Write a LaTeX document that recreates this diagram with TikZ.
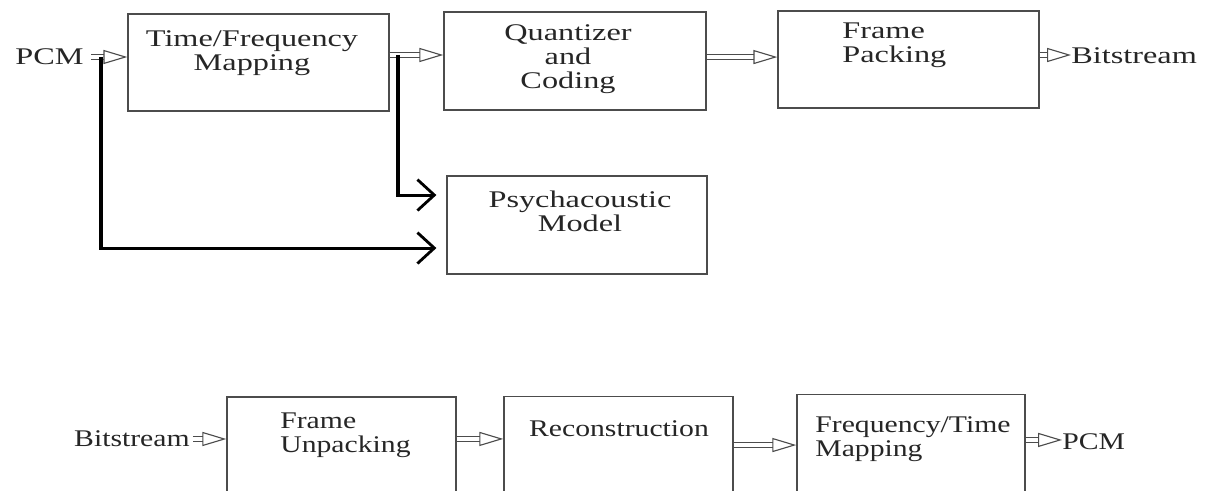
\documentclass[tikz,border=0pt]{standalone}
\usepackage{fontspec}
\setmainfont{Liberation Serif}
\usetikzlibrary{arrows.meta}

\tikzset{
  blk/.style={draw=black!70,line width=1pt,inner sep=0pt},
  lbl/.style={font=\fontsize{17}{17}\selectfont,text=black!85,inner sep=0pt,xscale=1.35},
  lblsm/.style={lbl,xscale=0.92},
  hollow/.style={draw=black!70,line width=0.8pt,double=white,double distance=3.2pt,
    -{Triangle[open,length=17pt,width=10pt]}},
  feed/.style={line width=2.2pt,-{Straight Barb[length=12pt,width=22pt,line width=2pt]}}
}

\begin{document}
\begin{tikzpicture}[x=0.025cm,y=-0.025cm]
\useasboundingbox (0,0) rectangle (1207,491);
\clip (0,0) rectangle (1207,491);
% encoder
\node[blk,minimum width=185.6pt,minimum height=69pt] (tf) at (258.5,62.5) {};
\node[blk,minimum width=186.4pt,minimum height=69.7pt] (qc) at (575,61) {};
\node[blk,minimum width=185.6pt,minimum height=69pt] (fp) at (908.5,59.5) {};
\node[blk,minimum width=185pt,minimum height=69.7pt] (psy) at (577,225) {};
\node[lbl,anchor=east] (pcm) at (84,57) {PCM};
\node[lbl,align=center] (tftext) at (252,53) {Time/Frequency\\Mapping};
\node[lbl,align=center] (qctext) at (568,59) {Quantizer\\and\\Coding};
\node[lbl,align=left,anchor=west] (fptext) at (842,45) {Frame\\Packing};
\node[lbl,align=center] (psytext) at (580,211) {Psychacoustic\\Model};
\node[lbl,anchor=west] (bsout) at (1071,56) {Bitstream};
\coordinate (split1) at (101,57);
\coordinate (split2) at (398,55);
\draw[hollow] ([xshift=5pt]pcm.east |- split1) -- (split1 -| tf.west);
\draw[hollow] (split2 -| tf.east) -- (split2 -| qc.west);
\draw[hollow] ([yshift=2.8pt]qc.east) -- ([yshift=2.8pt]qc.east -| fp.west);
\draw[hollow] ([yshift=3.2pt]fp.east) -- ([yshift=3.2pt]fp.east -| bsout.west);
\draw[feed] (split1) |- ([xshift=-7pt,yshift=-16.4pt]psy.west);
\draw[feed] (split2) |- ([xshift=-7pt,yshift=21.3pt]psy.west);
% decoder
\node[blk,minimum width=162.9pt,minimum height=73.3pt] (fu) at (341.5,448.5) {};
\node[blk,minimum width=162.9pt,minimum height=73.3pt] (rec) at (618.5,448) {};
\node[blk,minimum width=162.2pt,minimum height=73.3pt] (ft) at (911,446) {};
\node[lblsm,anchor=east] (bsin) at (190,439) {Bitstream};
\node[lblsm,align=left,anchor=west] (futext) at (280,435) {Frame\\Unpacking};
\node[lblsm] (rectext) at (619,429) {Reconstruction};
\node[lblsm,align=left,anchor=west] (fttext) at (815,439) {Frequency/Time\\Mapping};
\node[lblsm,anchor=west] (pcmout) at (1062,442) {PCM};
\draw[hollow] ([xshift=2pt]bsin.east) -- (bsin.east -| fu.west);
\draw[hollow] ([yshift=6.8pt]fu.east) -- ([yshift=6.8pt]fu.east -| rec.west);
\draw[hollow] ([yshift=2.1pt]rec.east) -- ([yshift=2.1pt]rec.east -| ft.west);
\draw[hollow] ([yshift=4.3pt]ft.east) -- ([yshift=4.3pt]ft.east -| pcmout.west);
\end{tikzpicture}
\end{document}
